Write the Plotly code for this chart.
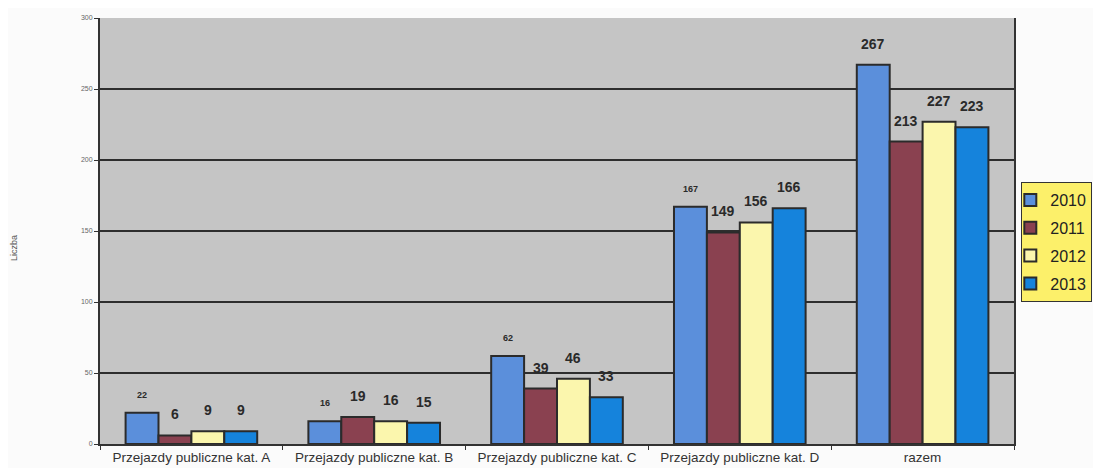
import plotly.graph_objects as go

categories = ["Przejazdy publiczne kat. A", "Przejazdy publiczne kat. B",
              "Przejazdy publiczne kat. C", "Przejazdy publiczne kat. D", "razem"]
years = ["2010", "2011", "2012", "2013"]
v2010 = [22, 16, 62, 167, 267]
v2011 = [6, 19, 39, 149, 213]
v2012 = [9, 16, 46, 156, 227]
v2013 = [9, 15, 33, 166, 223]
y_ticks = [0, 50, 100, 150, 200, 250, 300]

series = [v2010, v2011, v2012, v2013]
colors = ["#5b8fdb", "#8a4150", "#fbf6ad", "#1583dc"]
label_sizes = [[9, 9, 9, 9, 14], [14] * 5, [14] * 5, [14] * 5]

# layout constants (page body has an 8px margin)
W, H = 1093, 460
ML, MR, MT, MB = 92, 87, 10, 24
BARGAP = 0.28
plot_w = W - ML - MR
cat_px = plot_w / len(categories)
bar_px = cat_px * (1 - BARGAP) / len(series)

fig = go.Figure()
for i, (name, vals, col, sz) in enumerate(zip(years, series, colors, label_sizes)):
    fig.add_trace(go.Bar(
        x=categories, y=vals, name=name, legendgroup=name,
        marker=dict(color=col, line=dict(color="#2b2b2b", width=2)),
        cliponaxis=False,
    ))
    xoff = (i - (len(series) - 1) / 2) * bar_px
    for c, v, s in zip(categories, vals, sz):
        fig.add_annotation(x=c, y=v, text=f"<b>{v}</b>", showarrow=False,
                           xshift=xoff, yshift=21 if s > 10 else 18,
                           xanchor="center", yanchor="middle",
                           font=dict(family="Arial", size=s, color="#2a2a2a"))

fig.add_annotation(text="Liczba", xref="paper", yref="paper", x=-0.094, y=0.46,
                   xanchor="center", yanchor="middle", textangle=-90, showarrow=False,
                   font=dict(family="Arial", size=9, color="#555555"))

fig.update_layout(
    width=W, height=H,
    margin=dict(l=ML, r=MR, t=MT, b=MB, autoexpand=False),
    paper_bgcolor="#fbfbfb",
    plot_bgcolor="#c5c5c5",
    barmode="group", bargap=BARGAP, bargroupgap=0,
    showlegend=True,
    legend=dict(x=1.008, xanchor="left", y=0.474, yanchor="middle",
                bgcolor="#fcf06a", bordercolor="#333333", borderwidth=1,
                font=dict(family="Arial", size=16, color="#222222"),
                itemwidth=30, indentation=-12, tracegroupgap=4),
    font=dict(family="Arial"),
)
fig.update_xaxes(
    automargin=False,
    showline=True, linecolor="#333333", linewidth=2,
    ticks="outside", tickson="boundaries", ticklen=4, tickcolor="#333333",
    tickfont=dict(family="Arial", size=13.5, color="#333333"),
    showgrid=False,
)
fig.update_yaxes(
    automargin=False,
    range=[0, 300], tickvals=y_ticks,
    showline=True, linecolor="#333333", linewidth=2, mirror=True,
    ticks="outside", ticklen=4, tickcolor="#333333",
    tickfont=dict(family="Arial", size=7, color="#666666"),
    showgrid=True, gridcolor="#2e2e2e", gridwidth=1.5,
    zeroline=False,
)
fig.write_html("out.html")
